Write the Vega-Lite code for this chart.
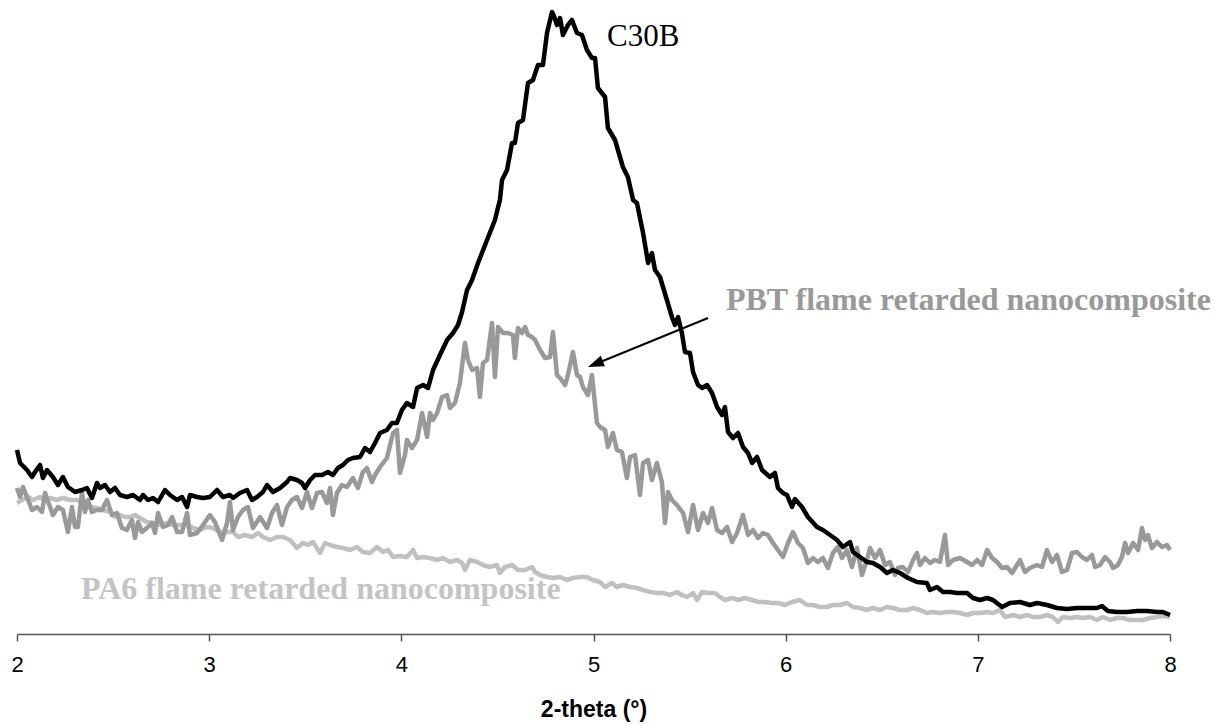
{
  "$schema": "https://vega.github.io/schema/vega-lite/v6.json",
  "width": 1153,
  "height": 634,
  "autosize": "none",
  "padding": {"left": 17, "top": 0, "right": 55, "bottom": 90},
  "background": "white",
  "config": {
    "view": {"stroke": null},
    "axis": {"grid": false}
  },
  "datasets": {
    "c30b": [
      {"theta":2.000,"counts":178},{"theta":2.016,"counts":165},{"theta":2.052,"counts":158},{"theta":2.078,"counts":151},{"theta":2.094,"counts":156},{"theta":2.120,"counts":163},{"theta":2.135,"counts":150},{"theta":2.156,"counts":158},{"theta":2.187,"counts":151},{"theta":2.213,"counts":143},{"theta":2.239,"counts":151},{"theta":2.265,"counts":141},{"theta":2.302,"counts":136},{"theta":2.338,"counts":138},{"theta":2.364,"counts":140},{"theta":2.390,"counts":130},{"theta":2.416,"counts":145},{"theta":2.432,"counts":140},{"theta":2.458,"counts":143},{"theta":2.484,"counts":136},{"theta":2.510,"counts":140},{"theta":2.536,"counts":133},{"theta":2.572,"counts":131},{"theta":2.604,"counts":133},{"theta":2.640,"counts":128},{"theta":2.656,"counts":133},{"theta":2.682,"counts":128},{"theta":2.708,"counts":130},{"theta":2.734,"counts":126},{"theta":2.770,"counts":138},{"theta":2.796,"counts":133},{"theta":2.833,"counts":128},{"theta":2.859,"counts":131},{"theta":2.885,"counts":121},{"theta":2.900,"counts":133},{"theta":2.937,"counts":131},{"theta":2.968,"counts":130},{"theta":3.004,"counts":131},{"theta":3.041,"counts":138},{"theta":3.072,"counts":131},{"theta":3.108,"counts":133},{"theta":3.124,"counts":130},{"theta":3.160,"counts":135},{"theta":3.197,"counts":138},{"theta":3.223,"counts":128},{"theta":3.249,"counts":131},{"theta":3.280,"counts":136},{"theta":3.301,"counts":143},{"theta":3.332,"counts":136},{"theta":3.369,"counts":140},{"theta":3.405,"counts":146},{"theta":3.421,"counts":150},{"theta":3.457,"counts":148},{"theta":3.483,"counts":145},{"theta":3.499,"counts":140},{"theta":3.525,"counts":148},{"theta":3.551,"counts":153},{"theta":3.587,"counts":153},{"theta":3.618,"counts":156},{"theta":3.644,"counts":153},{"theta":3.670,"counts":160},{"theta":3.696,"counts":163},{"theta":3.722,"counts":168},{"theta":3.748,"counts":170},{"theta":3.785,"counts":171},{"theta":3.811,"counts":180},{"theta":3.837,"counts":176},{"theta":3.863,"counts":185},{"theta":3.889,"counts":195},{"theta":3.925,"counts":198},{"theta":3.951,"counts":205},{"theta":3.977,"counts":205},{"theta":4.003,"counts":218},{"theta":4.029,"counts":225},{"theta":4.061,"counts":221},{"theta":4.082,"counts":240},{"theta":4.113,"counts":243},{"theta":4.139,"counts":240},{"theta":4.165,"counts":258},{"theta":4.201,"counts":273},{"theta":4.238,"counts":288},{"theta":4.269,"counts":295},{"theta":4.295,"counts":303},{"theta":4.316,"counts":316},{"theta":4.342,"counts":338},{"theta":4.368,"counts":348},{"theta":4.399,"counts":365},{"theta":4.446,"counts":388},{"theta":4.487,"counts":408},{"theta":4.513,"counts":428},{"theta":4.524,"counts":448},{"theta":4.550,"counts":458},{"theta":4.576,"counts":485},{"theta":4.591,"counts":485},{"theta":4.607,"counts":505},{"theta":4.633,"counts":508},{"theta":4.659,"counts":545},{"theta":4.685,"counts":548},{"theta":4.711,"counts":563},{"theta":4.737,"counts":563},{"theta":4.758,"counts":595},{"theta":4.784,"counts":616},{"theta":4.794,"counts":612},{"theta":4.810,"counts":603},{"theta":4.826,"counts":610},{"theta":4.841,"counts":593},{"theta":4.867,"counts":603},{"theta":4.888,"counts":608},{"theta":4.914,"counts":595},{"theta":4.940,"counts":593},{"theta":4.966,"counts":578},{"theta":4.992,"counts":570},{"theta":5.008,"counts":570},{"theta":5.023,"counts":540},{"theta":5.060,"counts":531},{"theta":5.075,"counts":500},{"theta":5.112,"counts":488},{"theta":5.153,"counts":461},{"theta":5.179,"counts":451},{"theta":5.206,"counts":428},{"theta":5.226,"counts":425},{"theta":5.258,"counts":395},{"theta":5.284,"counts":365},{"theta":5.304,"counts":375},{"theta":5.320,"counts":358},{"theta":5.346,"counts":351},{"theta":5.382,"counts":328},{"theta":5.408,"counts":311},{"theta":5.424,"counts":303},{"theta":5.440,"counts":311},{"theta":5.460,"counts":295},{"theta":5.476,"counts":276},{"theta":5.502,"counts":275},{"theta":5.518,"counts":256},{"theta":5.544,"counts":243},{"theta":5.565,"counts":240},{"theta":5.591,"counts":243},{"theta":5.617,"counts":235},{"theta":5.643,"counts":221},{"theta":5.669,"counts":213},{"theta":5.684,"counts":221},{"theta":5.700,"counts":196},{"theta":5.726,"counts":190},{"theta":5.752,"counts":195},{"theta":5.778,"counts":181},{"theta":5.804,"counts":175},{"theta":5.825,"counts":165},{"theta":5.851,"counts":171},{"theta":5.877,"counts":158},{"theta":5.918,"counts":151},{"theta":5.944,"counts":155},{"theta":5.960,"counts":140},{"theta":5.986,"counts":135},{"theta":6.007,"counts":133},{"theta":6.033,"counts":121},{"theta":6.048,"counts":129},{"theta":6.085,"counts":121},{"theta":6.116,"counts":111},{"theta":6.163,"counts":101},{"theta":6.194,"counts":98},{"theta":6.231,"counts":93},{"theta":6.267,"counts":88},{"theta":6.298,"counts":81},{"theta":6.335,"counts":86},{"theta":6.350,"counts":76},{"theta":6.387,"counts":71},{"theta":6.423,"counts":66},{"theta":6.454,"counts":65},{"theta":6.491,"counts":61},{"theta":6.527,"counts":55},{"theta":6.558,"counts":58},{"theta":6.595,"counts":55},{"theta":6.637,"counts":50},{"theta":6.683,"counts":46},{"theta":6.735,"counts":45},{"theta":6.751,"counts":38},{"theta":6.787,"counts":41},{"theta":6.819,"counts":36},{"theta":6.855,"counts":36},{"theta":6.892,"counts":35},{"theta":6.944,"counts":35},{"theta":6.975,"counts":30},{"theta":7.011,"counts":28},{"theta":7.048,"counts":30},{"theta":7.079,"counts":28},{"theta":7.126,"counts":21},{"theta":7.167,"counts":25},{"theta":7.219,"counts":26},{"theta":7.271,"counts":23},{"theta":7.308,"counts":25},{"theta":7.360,"counts":23},{"theta":7.412,"counts":20},{"theta":7.464,"counts":19},{"theta":7.516,"counts":20},{"theta":7.568,"counts":20},{"theta":7.620,"counts":20},{"theta":7.646,"counts":22},{"theta":7.677,"counts":17},{"theta":7.724,"counts":16},{"theta":7.776,"counts":16},{"theta":7.828,"counts":17},{"theta":7.880,"counts":17},{"theta":7.932,"counts":16},{"theta":7.963,"counts":16},{"theta":8.000,"counts":13}
    ],
    "pbt": [
      {"theta":2.000,"counts":140},{"theta":2.016,"counts":131},{"theta":2.031,"counts":141},{"theta":2.052,"counts":131},{"theta":2.078,"counts":118},{"theta":2.104,"counts":121},{"theta":2.130,"counts":116},{"theta":2.146,"counts":135},{"theta":2.172,"counts":121},{"theta":2.187,"counts":113},{"theta":2.213,"counts":121},{"theta":2.239,"counts":118},{"theta":2.265,"counts":96},{"theta":2.286,"counts":121},{"theta":2.302,"counts":101},{"theta":2.317,"counts":101},{"theta":2.338,"counts":135},{"theta":2.354,"counts":116},{"theta":2.369,"counts":128},{"theta":2.390,"counts":116},{"theta":2.416,"counts":118},{"theta":2.442,"counts":118},{"theta":2.468,"counts":128},{"theta":2.494,"counts":113},{"theta":2.520,"counts":115},{"theta":2.546,"counts":100},{"theta":2.572,"counts":98},{"theta":2.598,"counts":108},{"theta":2.614,"counts":90},{"theta":2.630,"counts":106},{"theta":2.650,"counts":96},{"theta":2.676,"counts":100},{"theta":2.703,"counts":105},{"theta":2.718,"counts":95},{"theta":2.734,"counts":115},{"theta":2.760,"counts":101},{"theta":2.786,"counts":103},{"theta":2.807,"counts":111},{"theta":2.833,"counts":96},{"theta":2.859,"counts":96},{"theta":2.885,"counts":115},{"theta":2.900,"counts":93},{"theta":2.937,"counts":95},{"theta":2.968,"counts":103},{"theta":3.004,"counts":113},{"theta":3.030,"counts":106},{"theta":3.067,"counts":88},{"theta":3.093,"counts":105},{"theta":3.108,"counts":126},{"theta":3.124,"counts":98},{"theta":3.150,"counts":111},{"theta":3.176,"counts":118},{"theta":3.202,"counts":121},{"theta":3.228,"counts":100},{"theta":3.265,"counts":111},{"theta":3.301,"counts":100},{"theta":3.327,"counts":115},{"theta":3.353,"counts":123},{"theta":3.379,"counts":103},{"theta":3.405,"counts":121},{"theta":3.431,"counts":128},{"theta":3.457,"counts":131},{"theta":3.483,"counts":120},{"theta":3.509,"counts":136},{"theta":3.535,"counts":120},{"theta":3.561,"counts":135},{"theta":3.587,"counts":136},{"theta":3.613,"counts":125},{"theta":3.629,"counts":140},{"theta":3.644,"counts":113},{"theta":3.665,"counts":135},{"theta":3.691,"counts":143},{"theta":3.717,"counts":141},{"theta":3.748,"counts":150},{"theta":3.774,"counts":140},{"theta":3.800,"counts":156},{"theta":3.821,"counts":160},{"theta":3.847,"counts":146},{"theta":3.863,"counts":153},{"theta":3.889,"counts":161},{"theta":3.925,"counts":170},{"theta":3.957,"counts":195},{"theta":3.977,"counts":198},{"theta":3.993,"counts":155},{"theta":4.019,"counts":173},{"theta":4.029,"counts":188},{"theta":4.055,"counts":180},{"theta":4.082,"counts":188},{"theta":4.108,"counts":215},{"theta":4.134,"counts":191},{"theta":4.149,"counts":215},{"theta":4.165,"counts":208},{"theta":4.186,"counts":215},{"theta":4.212,"counts":231},{"theta":4.238,"counts":233},{"theta":4.253,"counts":220},{"theta":4.279,"counts":225},{"theta":4.305,"counts":245},{"theta":4.331,"counts":285},{"theta":4.347,"counts":268},{"theta":4.368,"counts":258},{"theta":4.394,"counts":260},{"theta":4.409,"counts":231},{"theta":4.425,"counts":265},{"theta":4.446,"counts":268},{"theta":4.472,"counts":305},{"theta":4.487,"counts":251},{"theta":4.503,"counts":301},{"theta":4.529,"counts":295},{"theta":4.555,"counts":295},{"theta":4.581,"counts":293},{"theta":4.591,"counts":270},{"theta":4.607,"counts":300},{"theta":4.628,"counts":295},{"theta":4.644,"counts":301},{"theta":4.659,"counts":293},{"theta":4.680,"counts":291},{"theta":4.696,"counts":288},{"theta":4.722,"counts":278},{"theta":4.748,"counts":270},{"theta":4.774,"counts":271},{"theta":4.789,"counts":296},{"theta":4.810,"counts":253},{"theta":4.826,"counts":250},{"theta":4.852,"counts":243},{"theta":4.867,"counts":253},{"theta":4.893,"counts":276},{"theta":4.914,"counts":253},{"theta":4.930,"counts":251},{"theta":4.945,"counts":241},{"theta":4.971,"counts":233},{"theta":4.992,"counts":253},{"theta":5.018,"counts":205},{"theta":5.034,"counts":201},{"theta":5.060,"counts":198},{"theta":5.075,"counts":181},{"theta":5.101,"counts":195},{"theta":5.122,"counts":178},{"theta":5.148,"counts":176},{"theta":5.174,"counts":150},{"theta":5.190,"counts":171},{"theta":5.216,"counts":173},{"theta":5.242,"counts":133},{"theta":5.258,"counts":165},{"theta":5.284,"counts":168},{"theta":5.304,"counts":148},{"theta":5.330,"counts":165},{"theta":5.356,"counts":146},{"theta":5.372,"counts":105},{"theta":5.388,"counts":136},{"theta":5.408,"counts":128},{"theta":5.434,"counts":123},{"theta":5.466,"counts":115},{"theta":5.492,"counts":96},{"theta":5.518,"counts":123},{"theta":5.544,"counts":98},{"theta":5.570,"counts":115},{"theta":5.596,"counts":105},{"theta":5.617,"counts":120},{"theta":5.643,"counts":98},{"theta":5.669,"counts":95},{"theta":5.695,"counts":101},{"theta":5.721,"counts":86},{"theta":5.747,"counts":95},{"theta":5.778,"counts":113},{"theta":5.804,"counts":93},{"theta":5.830,"counts":98},{"theta":5.856,"counts":90},{"theta":5.882,"counts":95},{"theta":5.908,"counts":93},{"theta":5.934,"counts":85},{"theta":5.960,"counts":78},{"theta":5.986,"counts":71},{"theta":6.012,"counts":85},{"theta":6.038,"counts":96},{"theta":6.064,"counts":85},{"theta":6.090,"counts":80},{"theta":6.116,"counts":65},{"theta":6.142,"counts":70},{"theta":6.168,"counts":66},{"theta":6.194,"counts":70},{"theta":6.220,"counts":60},{"theta":6.246,"counts":75},{"theta":6.272,"counts":81},{"theta":6.293,"counts":70},{"theta":6.319,"counts":78},{"theta":6.345,"counts":61},{"theta":6.371,"counts":80},{"theta":6.397,"counts":53},{"theta":6.423,"counts":68},{"theta":6.439,"counts":80},{"theta":6.465,"counts":70},{"theta":6.491,"counts":78},{"theta":6.517,"counts":63},{"theta":6.543,"counts":66},{"theta":6.569,"counts":53},{"theta":6.584,"counts":60},{"theta":6.610,"counts":61},{"theta":6.637,"counts":56},{"theta":6.663,"counts":68},{"theta":6.683,"counts":75},{"theta":6.699,"counts":63},{"theta":6.725,"counts":70},{"theta":6.751,"counts":65},{"theta":6.777,"counts":68},{"theta":6.803,"counts":66},{"theta":6.829,"counts":93},{"theta":6.845,"counts":63},{"theta":6.871,"counts":68},{"theta":6.907,"counts":70},{"theta":6.944,"counts":66},{"theta":6.970,"counts":63},{"theta":6.996,"counts":68},{"theta":7.022,"counts":63},{"theta":7.048,"counts":78},{"theta":7.074,"counts":70},{"theta":7.100,"counts":66},{"theta":7.126,"counts":60},{"theta":7.152,"counts":61},{"theta":7.178,"counts":55},{"theta":7.204,"counts":63},{"theta":7.219,"counts":68},{"theta":7.245,"counts":56},{"theta":7.271,"counts":60},{"theta":7.308,"counts":63},{"theta":7.334,"counts":61},{"theta":7.360,"counts":78},{"theta":7.386,"counts":66},{"theta":7.412,"counts":73},{"theta":7.438,"counts":56},{"theta":7.464,"counts":58},{"theta":7.490,"counts":75},{"theta":7.516,"counts":76},{"theta":7.542,"counts":71},{"theta":7.568,"counts":68},{"theta":7.594,"counts":73},{"theta":7.610,"counts":61},{"theta":7.636,"counts":63},{"theta":7.662,"counts":71},{"theta":7.688,"counts":66},{"theta":7.703,"counts":60},{"theta":7.729,"counts":63},{"theta":7.750,"counts":71},{"theta":7.766,"counts":85},{"theta":7.782,"counts":75},{"theta":7.808,"counts":85},{"theta":7.834,"counts":78},{"theta":7.854,"counts":100},{"theta":7.870,"counts":88},{"theta":7.885,"counts":93},{"theta":7.906,"counts":80},{"theta":7.932,"counts":86},{"theta":7.958,"counts":81},{"theta":7.984,"counts":83},{"theta":8.000,"counts":78}
    ],
    "pa6": [
      {"theta":2.000,"counts":125},{"theta":2.026,"counts":128},{"theta":2.057,"counts":131},{"theta":2.083,"counts":128},{"theta":2.120,"counts":131},{"theta":2.146,"counts":128},{"theta":2.172,"counts":130},{"theta":2.208,"counts":128},{"theta":2.239,"counts":130},{"theta":2.276,"counts":128},{"theta":2.312,"counts":128},{"theta":2.343,"counts":125},{"theta":2.380,"counts":121},{"theta":2.416,"counts":120},{"theta":2.448,"counts":118},{"theta":2.484,"counts":116},{"theta":2.510,"counts":111},{"theta":2.536,"counts":113},{"theta":2.562,"counts":111},{"theta":2.588,"counts":111},{"theta":2.614,"counts":113},{"theta":2.640,"counts":110},{"theta":2.676,"counts":106},{"theta":2.708,"counts":105},{"theta":2.744,"counts":103},{"theta":2.781,"counts":105},{"theta":2.812,"counts":103},{"theta":2.848,"counts":103},{"theta":2.885,"counts":103},{"theta":2.916,"counts":100},{"theta":2.952,"counts":98},{"theta":2.989,"counts":101},{"theta":3.020,"counts":100},{"theta":3.056,"counts":96},{"theta":3.093,"counts":96},{"theta":3.124,"counts":96},{"theta":3.150,"counts":91},{"theta":3.186,"counts":93},{"theta":3.223,"counts":91},{"theta":3.254,"counts":95},{"theta":3.280,"counts":91},{"theta":3.317,"counts":88},{"theta":3.353,"counts":91},{"theta":3.384,"counts":91},{"theta":3.421,"counts":88},{"theta":3.457,"counts":80},{"theta":3.488,"counts":85},{"theta":3.514,"counts":83},{"theta":3.540,"counts":86},{"theta":3.577,"counts":75},{"theta":3.603,"counts":85},{"theta":3.629,"counts":83},{"theta":3.665,"counts":81},{"theta":3.696,"counts":80},{"theta":3.733,"counts":78},{"theta":3.769,"counts":81},{"theta":3.800,"counts":76},{"theta":3.837,"counts":75},{"theta":3.873,"counts":81},{"theta":3.905,"counts":76},{"theta":3.931,"counts":78},{"theta":3.957,"counts":71},{"theta":3.993,"counts":72},{"theta":4.029,"counts":71},{"theta":4.061,"counts":78},{"theta":4.082,"counts":70},{"theta":4.113,"counts":71},{"theta":4.149,"counts":70},{"theta":4.186,"counts":68},{"theta":4.217,"counts":70},{"theta":4.253,"counts":66},{"theta":4.290,"counts":68},{"theta":4.316,"counts":65},{"theta":4.331,"counts":58},{"theta":4.357,"counts":68},{"theta":4.394,"counts":66},{"theta":4.425,"counts":63},{"theta":4.461,"counts":61},{"theta":4.498,"counts":63},{"theta":4.513,"counts":55},{"theta":4.539,"counts":61},{"theta":4.576,"counts":63},{"theta":4.607,"counts":58},{"theta":4.643,"counts":58},{"theta":4.680,"counts":61},{"theta":4.696,"counts":56},{"theta":4.722,"counts":53},{"theta":4.758,"counts":51},{"theta":4.789,"counts":50},{"theta":4.826,"counts":51},{"theta":4.862,"counts":48},{"theta":4.893,"counts":50},{"theta":4.930,"counts":51},{"theta":4.966,"counts":51},{"theta":4.997,"counts":48},{"theta":5.034,"counts":46},{"theta":5.060,"counts":41},{"theta":5.096,"counts":45},{"theta":5.122,"counts":41},{"theta":5.153,"counts":43},{"theta":5.190,"counts":41},{"theta":5.226,"counts":40},{"theta":5.258,"counts":38},{"theta":5.294,"counts":36},{"theta":5.330,"counts":35},{"theta":5.362,"counts":35},{"theta":5.398,"counts":33},{"theta":5.434,"counts":36},{"theta":5.460,"counts":33},{"theta":5.487,"counts":31},{"theta":5.518,"counts":35},{"theta":5.539,"counts":28},{"theta":5.565,"counts":36},{"theta":5.596,"counts":35},{"theta":5.632,"counts":35},{"theta":5.658,"counts":31},{"theta":5.684,"counts":28},{"theta":5.721,"counts":30},{"theta":5.752,"counts":28},{"theta":5.788,"counts":30},{"theta":5.825,"counts":28},{"theta":5.856,"counts":26},{"theta":5.892,"counts":26},{"theta":5.929,"counts":25},{"theta":5.960,"counts":25},{"theta":5.996,"counts":23},{"theta":6.033,"counts":26},{"theta":6.075,"counts":28},{"theta":6.111,"counts":23},{"theta":6.142,"counts":23},{"theta":6.179,"counts":21},{"theta":6.215,"counts":21},{"theta":6.246,"counts":23},{"theta":6.283,"counts":23},{"theta":6.319,"counts":25},{"theta":6.350,"counts":21},{"theta":6.387,"counts":20},{"theta":6.423,"counts":18},{"theta":6.454,"counts":20},{"theta":6.491,"counts":18},{"theta":6.527,"counts":21},{"theta":6.558,"counts":20},{"theta":6.595,"counts":18},{"theta":6.631,"counts":18},{"theta":6.663,"counts":20},{"theta":6.699,"counts":18},{"theta":6.735,"counts":15},{"theta":6.767,"counts":16},{"theta":6.803,"counts":15},{"theta":6.840,"counts":16},{"theta":6.871,"counts":16},{"theta":6.907,"counts":15},{"theta":6.944,"counts":13},{"theta":6.975,"counts":15},{"theta":7.011,"counts":15},{"theta":7.048,"counts":16},{"theta":7.079,"counts":15},{"theta":7.115,"counts":18},{"theta":7.141,"counts":11},{"theta":7.183,"counts":13},{"theta":7.219,"counts":11},{"theta":7.256,"counts":13},{"theta":7.287,"counts":11},{"theta":7.323,"counts":11},{"theta":7.360,"counts":13},{"theta":7.391,"counts":11},{"theta":7.417,"counts":6},{"theta":7.443,"counts":11},{"theta":7.480,"counts":10},{"theta":7.516,"counts":11},{"theta":7.547,"counts":10},{"theta":7.584,"counts":11},{"theta":7.620,"counts":8},{"theta":7.651,"counts":11},{"theta":7.688,"counts":8},{"theta":7.724,"counts":10},{"theta":7.755,"counts":10},{"theta":7.792,"counts":8},{"theta":7.828,"counts":8},{"theta":7.859,"counts":8},{"theta":7.896,"counts":10},{"theta":7.932,"counts":11},{"theta":7.963,"counts":12},{"theta":8.000,"counts":11}
    ],
    "labels": [
      {"label":"C30B","theta":5.070,"counts":582},
      {"label":"PBT flame retarded nanocomposite","theta":5.689,"counts":318},
      {"label":"PA6 flame retarded nanocomposite","theta":2.333,"counts":29}
    ],
    "arrow": [
      {"theta":5.596,"counts":310,"theta2":5.010,"counts2":264}
    ]
  },
  "encoding": {
    "x": {
      "field": "theta",
      "type": "quantitative",
      "scale": {"domain": [2, 8], "nice": false, "zero": false},
      "axis": {
        "values": [2, 3, 4, 5, 6, 7, 8],
        "title": "2-theta (°)",
        "titleFont": "Liberation Sans",
        "titleFontSize": 23,
        "titleFontWeight": "bold",
        "titleColor": "black",
        "titlePadding": 23,
        "labelFont": "Liberation Sans",
        "labelFontSize": 22,
        "labelColor": "black",
        "labelPadding": 13,
        "labelFlush": false,
        "tickSize": 7,
        "tickColor": "#555555",
        "domainColor": "#555555",
        "domainWidth": 1.5,
        "tickWidth": 1.5
      }
    },
    "y": {
      "field": "counts",
      "type": "quantitative",
      "scale": {"domain": [-6, 628], "nice": false, "zero": false},
      "axis": null
    }
  },
  "layer": [
    {
      "data": {"name": "labels"},
      "transform": [{"filter": "datum.label == 'PA6 flame retarded nanocomposite'"}],
      "mark": {"type": "text", "align": "left", "baseline": "alphabetic", "font": "Liberation Serif", "fontSize": 32, "fontWeight": "bold", "color": "#c4c4c4"},
      "encoding": {"text": {"field": "label"}}
    },
    {
      "data": {"name": "arrow"},
      "mark": {"type": "rule", "color": "black", "strokeWidth": 2},
      "encoding": {"x2": {"field": "theta2"}, "y2": {"field": "counts2"}}
    },
    {
      "data": {"name": "arrow"},
      "mark": {"type": "point", "shape": "M -1 0 L 1 -0.7 L 1 0.7 Z", "size": 256, "filled": true, "color": "black", "opacity": 1, "angle": 338},
      "encoding": {"x": {"field": "theta2", "type": "quantitative"}, "y": {"field": "counts2", "type": "quantitative"}}
    },
    {
      "data": {"name": "pa6"},
      "mark": {"type": "line", "color": "#c0c0c0", "strokeWidth": 4.5, "strokeJoin": "round"}
    },
    {
      "data": {"name": "pbt"},
      "mark": {"type": "line", "color": "#999999", "strokeWidth": 4.5, "strokeJoin": "round"}
    },
    {
      "data": {"name": "c30b"},
      "mark": {"type": "line", "color": "black", "strokeWidth": 4.5, "strokeJoin": "round"}
    },
    {
      "data": {"name": "labels"},
      "transform": [{"filter": "datum.label == 'C30B'"}],
      "mark": {"type": "text", "align": "left", "baseline": "alphabetic", "font": "Liberation Serif", "fontSize": 31, "color": "black"},
      "encoding": {"text": {"field": "label"}}
    },
    {
      "data": {"name": "labels"},
      "transform": [{"filter": "datum.label == 'PBT flame retarded nanocomposite'"}],
      "mark": {"type": "text", "align": "left", "baseline": "alphabetic", "font": "Liberation Serif", "fontSize": 32, "fontWeight": "bold", "color": "#999999"},
      "encoding": {"text": {"field": "label"}}
    }
  ]
}
